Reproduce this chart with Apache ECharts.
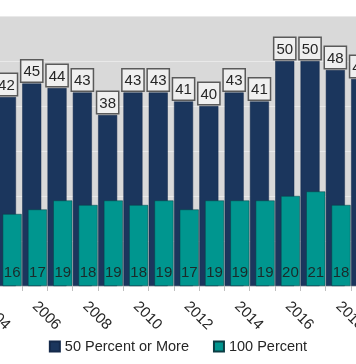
<!DOCTYPE html>
<html>
<head>
<meta charset="utf-8">
<script src="https://cdn.jsdelivr.net/npm/echarts@6/dist/echarts.min.js"></script>
<style>
html,body{margin:0;padding:0;width:356px;height:364px;overflow:hidden;background:#fff;}
#c{position:absolute;left:-60px;top:0;width:476px;height:364px;}
</style>
</head>
<body>
<div id="c"></div>
<script>
const years = ['2004','2005','2006','2007','2008','2009','2010','2011','2012','2013','2014','2015','2016','2017','2018','2019'];
const fiftyOrMore = [null,42,45,44,43,38,43,43,41,40,43,41,50,50,48,46];
const hundredPct = [null,16,17,19,18,19,18,19,17,19,19,19,20,21,18,null];
const seriesNames = ['50 Percent or More','100 Percent'];

const font = 'Liberation Sans, Arial, sans-serif';
const chart = echarts.init(document.getElementById('c'), null, {renderer:'canvas'});
chart.setOption({
  animation:false,
  backgroundColor:'#ffffff',
  textStyle:{fontFamily:font},
  grid:{left:31.35, width:404.8, top:16, height:270, show:true, backgroundColor:'#d9d9d9', borderWidth:0},
  legend:{
    bottom:5, left:'center', itemWidth:10, itemHeight:10, itemGap:24,
    icon:'rect',
    textStyle:{fontSize:14.5, color:'#262626', fontFamily:font},
    data:seriesNames
  },
  xAxis:{
    type:'category', data:years,
    axisLine:{show:false},
    axisTick:{show:true, interval:0, length:5, lineStyle:{color:'#bfbfbf'}},
    axisLabel:{interval:1, rotate:-45, margin:18, fontSize:15, color:'#262626', fontFamily:font},
    splitLine:{show:false}
  },
  yAxis:{
    type:'value', min:0, max:60, interval:10,
    axisLabel:{show:false}, axisLine:{show:false}, axisTick:{show:false},
    splitLine:{show:true, lineStyle:{color:'#e9e9e9', width:1}}
  },
  series:[
    {
      name:seriesNames[0], type:'bar', data:fiftyOrMore,
      barWidth:19, barGap:'-70%',
      itemStyle:{color:'#1b365d', borderColor:'#14294a', borderWidth:0.5},
      label:{show:true, position:'top', distance:2, fontSize:15, color:'#262626', fontFamily:font,
        backgroundColor:'#efefef', borderColor:'#5a5a5a', borderWidth:1.5, padding:[4,2,2,2]}
    },
    {
      name:seriesNames[1], type:'bar', data:hundredPct,
      barWidth:19,
      itemStyle:{color:'#00968f', borderColor:'#0b3d44', borderWidth:0.5},
      label:{show:true, position:'insideBottom', distance:6, fontSize:15, color:'#1a2a2a', fontFamily:font}
    }
  ]
});
</script>
</body>
</html>
